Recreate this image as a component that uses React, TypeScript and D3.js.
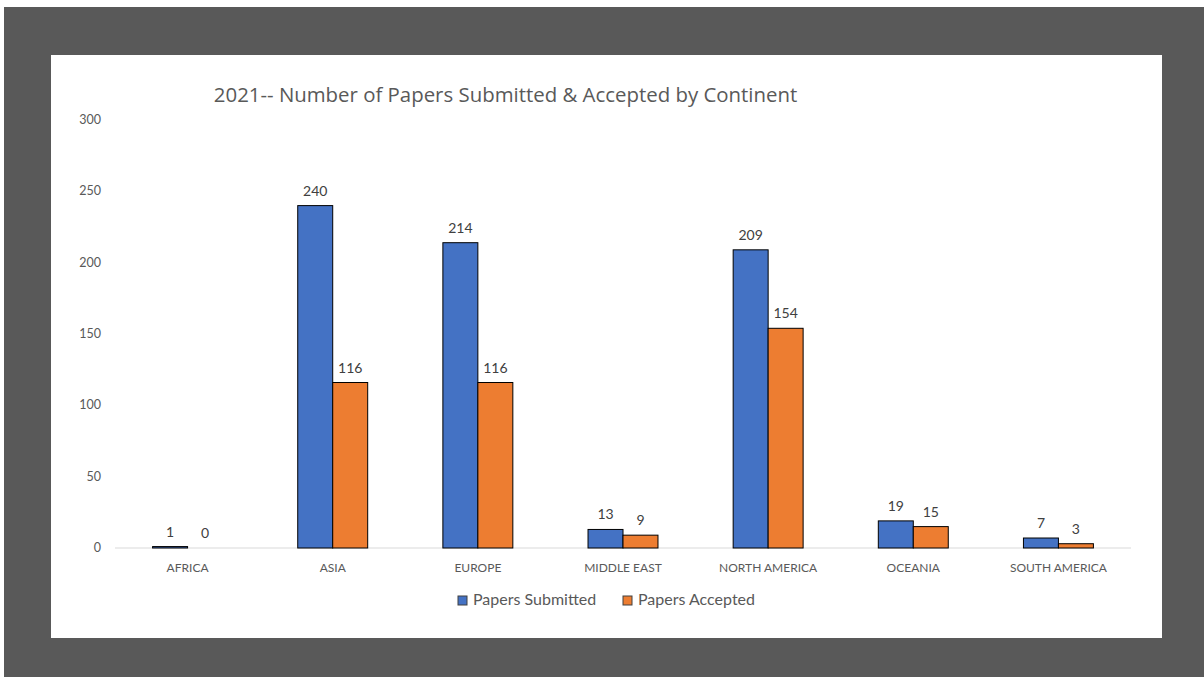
import React from "react";
import * as d3 from "d3";

const categories = ["AFRICA", "ASIA", "EUROPE", "MIDDLE EAST", "NORTH AMERICA", "OCEANIA", "SOUTH AMERICA"];
const submitted = [1, 240, 214, 13, 209, 19, 7];
const accepted = [0, 116, 116, 9, 154, 15, 3];
const seriesNames = ["Papers Submitted", "Papers Accepted"];
const seriesColors = ["#4472C4", "#ED7D31"];
const yTicks = [0, 50, 100, 150, 200, 250, 300];
const title = "2021-- Number of Papers Submitted & Accepted by Continent";

const W = 1204, H = 677;
const FONT = "Lato, 'Open Sans', sans-serif";

export default function App() {
  const x0 = d3.scaleBand<string>().domain(categories).range([115, 1131]).paddingInner(0.518).paddingOuter(0.259);
  const x1 = d3.scaleBand<number>().domain([0, 1]).range([0, x0.bandwidth()]);
  const y = d3.scaleLinear().domain([0, 300]).range([548, 120]);
  const series = [submitted, accepted];
  return (
    <svg width={W} height={H} style={{ position: "absolute", left: 0, top: 0, fontFamily: FONT }}>
      <rect x={0} y={0} width={W} height={H} fill="#ffffff" />
      <rect x={4} y={7} width={W - 4} height={H - 7} fill="#595959" />
      <rect x={51} y={55} width={1111} height={583} fill="#ffffff" />
      <text x={505.5} y={102} textAnchor="middle" fontSize={20.4} fontFamily="'Open Sans', sans-serif" fill="#595959">{title}</text>
      {yTicks.map((t) => (
        <text key={t} x={101} y={y(t) + 4} textAnchor="end" fontSize={12.5} fill="#595959">{t}</text>
      ))}
      <line x1={115} x2={1131} y1={y(0)} y2={y(0)} stroke="#d9d9d9" strokeWidth={1} />
      {categories.map((c, i) => (
        <g key={c}>
          {series.map((s, j) => {
            const bx = (x0(c) as number) + (x1(j) as number);
            const by = y(s[i]);
            const bh = y(0) - by;
            return (
              <g key={j}>
                {s[i] > 0 && (
                  <rect x={bx} y={by} width={x1.bandwidth()} height={bh} fill={seriesColors[j]} stroke="#000" strokeWidth={1} />
                )}
                <text x={bx + x1.bandwidth() / 2} y={by - 10} textAnchor="middle" fontSize={14} fill="#404040">{s[i]}</text>
              </g>
            );
          })}
          <text x={(x0(c) as number) + x0.bandwidth() / 2} y={572} textAnchor="middle" fontSize={12} fill="#595959">{c}</text>
        </g>
      ))}
      <g>
        <rect x={458} y={596} width={9} height={9} fill={seriesColors[0]} stroke="#404040" strokeWidth={1} />
        <text x={473} y={605} fontSize={16} fill="#595959">{seriesNames[0]}</text>
        <rect x={623} y={596} width={9} height={9} fill={seriesColors[1]} stroke="#404040" strokeWidth={1} />
        <text x={638} y={605} fontSize={16} fill="#595959">{seriesNames[1]}</text>
      </g>
    </svg>
  );
}
